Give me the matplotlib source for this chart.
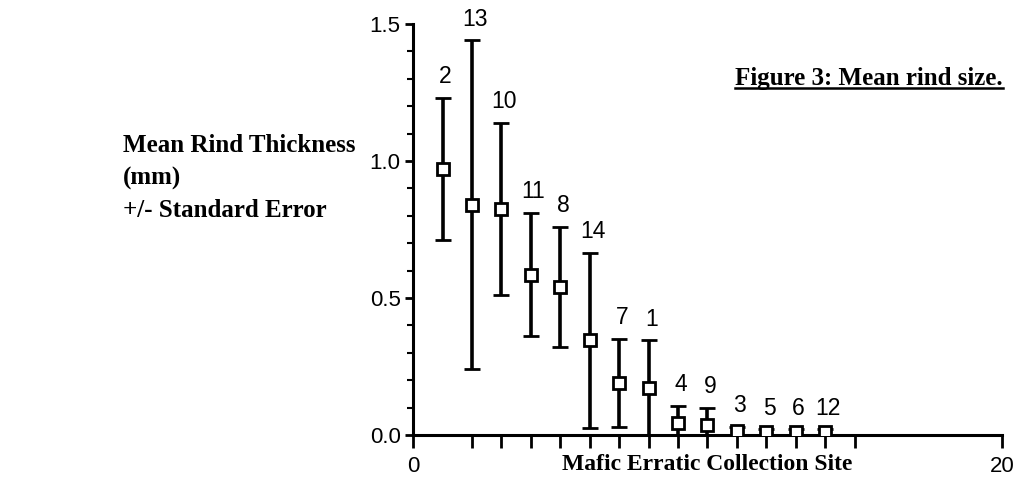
import numpy as np
import matplotlib.pyplot as plt
from matplotlib.lines import Line2D
from matplotlib.ticker import MultipleLocator, FixedLocator, FuncFormatter

# site number written above each bar, plotted in rank order 1..14
site_labels = ["2", "13", "10", "11", "8", "14", "7", "1", "4", "9", "3", "5", "6", "12"]
positions = np.arange(1, 15)
mean_rind = [0.97, 0.84, 0.825, 0.585, 0.54, 0.345, 0.19, 0.17, 0.045, 0.035, 0.015, 0.01, 0.01, 0.01]
std_err = [0.26, 0.60, 0.315, 0.225, 0.22, 0.32, 0.16, 0.175, 0.06, 0.065, 0.015, 0.01, 0.01, 0.01]

x_ticks = [0, 2, 3, 4, 5, 6, 7, 8, 9, 10, 11, 12, 13, 14, 15, 20]

serif = "Liberation Serif"
sans = "Liberation Sans"

fig = plt.figure(figsize=(10.15, 4.79), dpi=100)
ax = fig.add_axes([0.407, 0.092, 0.580, 0.858])

ax.errorbar(positions, mean_rind, yerr=std_err, fmt="s", color="black",
            ecolor="black", elinewidth=2.6, capsize=5.5, capthick=2.6,
            markersize=8, markerfacecolor="white", markeredgecolor="black",
            markeredgewidth=2, zorder=3)

for xp, m, e, lab in zip(positions, mean_rind, std_err, site_labels):
    ax.annotate(lab, xy=(xp, m + e), xytext=(2, 7), textcoords="offset points",
                ha="center", va="bottom", fontsize=16.5, family=sans)

ax.set_xlim(0, 20)
ax.set_ylim(0, 1.5)
for s in ["top", "right"]:
    ax.spines[s].set_visible(False)
ax.spines["left"].set_linewidth(2.2)
ax.spines["bottom"].set_linewidth(2.2)

ax.xaxis.set_major_locator(FixedLocator(x_ticks))
ax.xaxis.set_major_formatter(FuncFormatter(lambda v, p: "%d" % v if v in (0, 20) else ""))
ax.yaxis.set_major_locator(MultipleLocator(0.5))
ax.yaxis.set_minor_locator(MultipleLocator(0.1))
ax.yaxis.set_major_formatter(FuncFormatter(lambda v, p: "%.1f" % v))

ax.tick_params(axis="x", direction="out", length=9, width=2, pad=6, labelsize=16)
ax.tick_params(axis="y", which="major", direction="out", length=6, width=2, pad=3, labelsize=16)
ax.tick_params(axis="y", which="minor", direction="out", length=4, width=1.5)
for t in ax.get_xticklabels() + ax.get_yticklabels():
    t.set_family(sans)

ax.text(0.5, -0.073, "Mafic Erratic Collection Site", transform=ax.transAxes,
        family=serif, fontweight="bold", fontsize=17, ha="center", va="center")

fig.text(0.121, 0.628, "Mean Rind Thickness\n(mm)\n+/- Standard Error", family=serif,
         fontweight="bold", fontsize=18, ha="left", va="center", linespacing=1.5)

title = fig.text(0.988, 0.822, "Figure 3: Mean rind size.", family=serif,
                 fontweight="bold", fontsize=18, ha="right", va="baseline")
fig.canvas.draw()
bb = title.get_window_extent().transformed(fig.transFigure.inverted())
fig.add_artist(Line2D([bb.x0, bb.x1], [bb.y0 + 0.004, bb.y0 + 0.004], color="black",
                      lw=1.8, transform=fig.transFigure))

fig.savefig("out.png", dpi=100)
